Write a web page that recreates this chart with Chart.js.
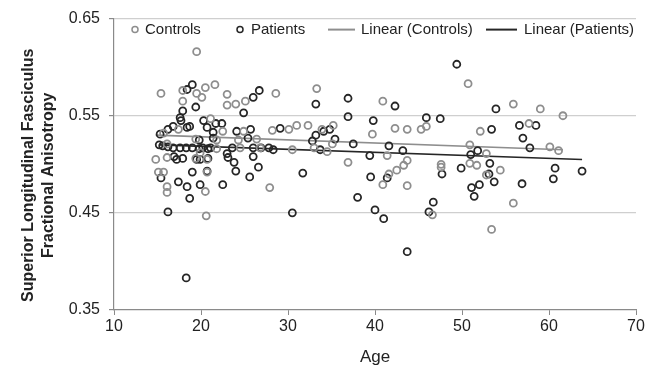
<!DOCTYPE html>
<html>
<head>
<meta charset="utf-8">
<script src="https://cdn.jsdelivr.net/npm/chart.js@4.4.1/dist/chart.umd.min.js"></script>
<style>
  html, body { margin: 0; padding: 0; background: #fff; }
  #wrap { width: 657px; height: 368px; }
</style>
</head>
<body>
<div id="wrap"><canvas id="slfChart" width="657" height="368"></canvas></div>
<script>
// ---- DATA ----
const ageTicks = [10, 20, 30, 40, 50, 60, 70];
const faTicks = [0.35, 0.45, 0.55, 0.65];
const yTitleLines = ['Superior Longitudinal Fasciculus', 'Fractional Anisotropy'];

const controlsAge = [19.5, 15.4, 17.9, 17.9, 19.5, 20.1, 20.5, 21.6, 23.0, 23.0, 24.0, 25.1, 28.6,
  17.4, 21.1, 22.5, 24.9, 28.2, 30.1, 31.0, 15.7, 19.4, 21.8, 24.3, 26.4,
  16.1, 21.8, 24.5, 26.8, 30.5, 14.8, 16.1, 19.4, 19.9, 20.7,
  15.1, 15.7, 16.1, 16.1, 20.7, 20.5, 27.9, 20.6,
  33.3, 40.9, 39.7, 42.3, 32.3, 33.9, 35.2, 33.0, 34.5, 35.1, 36.9, 41.4,
  40.9, 41.6, 42.5, 43.3, 43.7, 43.7, 43.7, 45.3, 45.9, 46.6, 47.6, 47.6,
  50.7, 52.1, 50.9, 52.8, 50.9, 51.7, 52.8, 54.4, 53.4, 55.9, 59.0, 61.6, 57.7, 60.1, 61.1, 55.9];
const controlsFA = [0.616, 0.573, 0.576, 0.565, 0.573, 0.569, 0.579, 0.582, 0.572, 0.561, 0.562, 0.565, 0.573,
  0.536, 0.547, 0.534, 0.534, 0.535, 0.536, 0.540, 0.532, 0.526, 0.525, 0.525, 0.526,
  0.521, 0.516, 0.517, 0.517, 0.515, 0.505, 0.507, 0.506, 0.512, 0.505,
  0.492, 0.492, 0.477, 0.471, 0.492, 0.472, 0.476, 0.447,
  0.578, 0.565, 0.531, 0.537, 0.540, 0.536, 0.540, 0.517, 0.513, 0.521, 0.502, 0.509,
  0.479, 0.490, 0.494, 0.499, 0.504, 0.478, 0.536, 0.536, 0.539, 0.448, 0.500, 0.497,
  0.583, 0.534, 0.520, 0.511, 0.501, 0.499, 0.489, 0.494, 0.433, 0.562, 0.557, 0.550, 0.542, 0.518, 0.514, 0.460];

const patientsAge = [19.0, 18.4, 19.4, 17.9, 17.6, 17.7, 26.0, 26.7, 24.9,
  16.2, 16.8, 18.4, 18.7, 20.3, 20.7, 21.7, 22.4, 21.4, 24.1, 25.7, 29.1,
  15.3, 19.8, 21.4, 25.4,
  15.2, 15.6, 16.2, 16.8, 17.6, 18.3, 19.0, 19.8, 20.2, 20.8, 21.1, 23.6, 26.0, 27.8, 28.3, 26.9,
  16.9, 17.2, 17.9, 19.5, 20.8, 23.0, 23.1, 26.0, 19.9, 23.8, 26.6,
  15.4, 17.4, 18.4, 18.7, 19.0, 19.9, 20.7, 22.5, 24.0, 25.6, 31.7, 16.2, 30.5, 18.3,
  33.2, 36.9, 36.9, 39.8, 42.3, 33.2, 34.1, 34.8, 35.4, 32.8, 33.7, 37.5, 39.4, 41.6, 43.2,
  39.5, 41.4, 38.0, 40.0, 41.0, 43.7, 46.7, 46.2, 47.7, 49.4, 45.9, 47.5,
  53.9, 53.4, 51.0, 51.8, 49.9, 51.1, 51.4, 52.0, 53.2, 53.1, 53.7,
  56.6, 58.5, 57.0, 57.8, 56.9, 60.7, 60.5, 63.8];
const patientsFA = [0.582, 0.577, 0.559, 0.555, 0.548, 0.545, 0.569, 0.576, 0.553,
  0.536, 0.539, 0.538, 0.539, 0.545, 0.538, 0.542, 0.542, 0.533, 0.534, 0.536, 0.537,
  0.531, 0.525, 0.527, 0.527,
  0.520, 0.519, 0.518, 0.517, 0.517, 0.517, 0.517, 0.516, 0.517, 0.516, 0.517, 0.517, 0.517, 0.517, 0.515, 0.517,
  0.508, 0.505, 0.506, 0.505, 0.506, 0.511, 0.507, 0.508, 0.505, 0.502, 0.497,
  0.486, 0.482, 0.477, 0.465, 0.492, 0.479, 0.493, 0.479, 0.493, 0.487, 0.491, 0.451, 0.450, 0.383,
  0.562, 0.568, 0.549, 0.545, 0.560, 0.530, 0.534, 0.536, 0.526, 0.524, 0.515, 0.521, 0.509, 0.519, 0.514,
  0.487, 0.486, 0.466, 0.453, 0.444, 0.410, 0.461, 0.451, 0.490, 0.603, 0.548, 0.547,
  0.557, 0.536, 0.510, 0.514, 0.496, 0.476, 0.467, 0.479, 0.501, 0.490, 0.482,
  0.540, 0.540, 0.527, 0.517, 0.480, 0.496, 0.485, 0.493];

// linear trend end points
const controlsTrendAge = [14.8, 61.6];
const controlsTrendFA = [0.530, 0.515];
const patientsTrendAge = [15.2, 63.8];
const patientsTrendFA = [0.520, 0.505];

const GRAY = '#8e8e8e';
const DARK = '#262626';
const FONT = '"Liberation Sans", Arial, sans-serif';

function pts(xs, ys){
  return xs.map((x, i) => ({ x: x, y: ys[i] }));
}

// legend drawn inside the plot, like the Excel original
const legendInside = {
  id: 'legendInside',
  afterDraw(chart){
    const c = chart.ctx;
    const y = chart.chartArea.top + 11;
    c.save();
    c.font = '15px ' + FONT;
    c.fillStyle = '#222';
    c.textBaseline = 'middle';
    const ds = chart.data.datasets;
    c.lineWidth = 1.5;
    c.strokeStyle = ds[0].borderColor;
    c.beginPath(); c.arc(135, y, 3, 0, Math.PI * 2); c.stroke();
    c.fillText(ds[0].label, 145, y);
    c.strokeStyle = ds[1].borderColor;
    c.beginPath(); c.arc(240, y, 3, 0, Math.PI * 2); c.stroke();
    c.fillText(ds[1].label, 251, y);
    c.lineWidth = 2;
    c.strokeStyle = ds[2].borderColor;
    c.beginPath(); c.moveTo(328, y); c.lineTo(355, y); c.stroke();
    c.fillText(ds[2].label, 361, y);
    c.strokeStyle = ds[3].borderColor;
    c.beginPath(); c.moveTo(486, y); c.lineTo(517, y); c.stroke();
    c.fillText(ds[3].label, 524, y);
    c.restore();
  }
};

// two-line rotated y title, sits a bit below the plot centre in the original
const yTitle = {
  id: 'yTitle',
  afterDraw(chart){
    const c = chart.ctx;
    const a = chart.chartArea;
    const cy = (a.top + a.bottom) / 2 + 11;
    c.save();
    c.font = 'bold 16px ' + FONT;
    c.fillStyle = '#222';
    c.textAlign = 'center';
    c.textBaseline = 'middle';
    [29, 49].forEach((x, i) => {
      c.save();
      c.translate(x, cy);
      c.rotate(-Math.PI / 2);
      c.fillText(yTitleLines[i], 0, 0);
      c.restore();
    });
    c.restore();
  }
};

const ctx = document.getElementById('slfChart').getContext('2d');

const chart = new Chart(ctx, {
  type: 'scatter',
  data: {
    datasets: [
      {
        label: 'Controls',
        data: pts(controlsAge, controlsFA),
        borderColor: GRAY,
        backgroundColor: 'rgba(0,0,0,0)',
        borderWidth: 1.8,
        pointRadius: 3.5
      },
      {
        label: 'Patients',
        data: pts(patientsAge, patientsFA),
        borderColor: DARK,
        backgroundColor: 'rgba(0,0,0,0)',
        borderWidth: 1.8,
        pointRadius: 3.5
      },
      {
        label: 'Linear (Controls)',
        type: 'line',
        data: pts(controlsTrendAge, controlsTrendFA),
        borderColor: GRAY,
        borderWidth: 1.6,
        pointRadius: 0,
        fill: false
      },
      {
        label: 'Linear (Patients)',
        type: 'line',
        data: pts(patientsTrendAge, patientsTrendFA),
        borderColor: DARK,
        borderWidth: 1.6,
        pointRadius: 0,
        fill: false
      }
    ]
  },
  options: {
    responsive: false,
    animation: false,
    layout: { padding: { top: 17, right: 21, left: 0, bottom: 0 } },
    plugins: {
      legend: { display: false },
      tooltip: { enabled: false }
    },
    scales: {
      x: {
        type: 'linear',
        min: 10,
        max: 70,
        afterBuildTicks: s => { s.ticks = ageTicks.map(v => ({ value: v })); },
        afterFit: s => { s.height = 58; },
        ticks: { color: '#222', font: { family: FONT, size: 16 }, padding: 2, maxRotation: 0 },
        grid: { drawOnChartArea: false, drawTicks: true, tickLength: 5, tickColor: '#8a8a8a' },
        border: { color: '#8a8a8a', width: 1.2 },
        title: {
          display: true,
          text: 'Age',
          color: '#222',
          font: { family: FONT, size: 17 },
          padding: { top: 1, bottom: 0 }
        }
      },
      y: {
        min: 0.35,
        max: 0.65,
        afterBuildTicks: s => { s.ticks = faTicks.map(v => ({ value: v })); },
        afterFit: s => { s.width = 114; },
        ticks: {
          color: '#222',
          font: { family: FONT, size: 16 },
          padding: 9,
          callback: v => v.toFixed(2)
        },
        grid: {
          color: c => (c.tick && c.tick.value === 0.35) ? 'rgba(0,0,0,0)' : '#cfcfcf',
          tickColor: '#8a8a8a',
          tickLength: 5,
          lineWidth: 1.2
        },
        border: { color: '#8a8a8a', width: 1.2 },
        title: { display: false }
      }
    }
  },
  plugins: [legendInside, yTitle]
});
</script>
</body>
</html>
